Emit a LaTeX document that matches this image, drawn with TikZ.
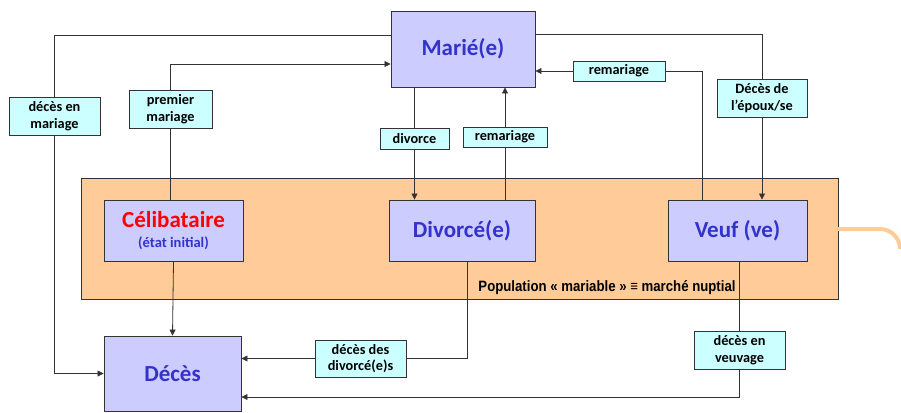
\documentclass[tikz,border=0pt]{standalone}
\usepackage{fontspec}
\setmainfont{Carlito}
\newfontfamily\arialf{Liberation Sans}
\usetikzlibrary{arrows.meta}
\definecolor{lav}{HTML}{CCCCFF}
\definecolor{tblue}{HTML}{3333CC}
\definecolor{cyanl}{HTML}{CCFFFF}
\definecolor{orf}{HTML}{FFCC99}
\definecolor{lnc}{HTML}{333333}
\begin{document}
\begin{tikzpicture}[x=1pt,y=-1pt,
  statebox/.style={draw=lnc,line width=0.9pt,fill=lav,inner sep=0pt,align=center,
    font=\bfseries\fontsize{23}{26}\selectfont,text=tblue},
  lab/.style={draw=lnc,line width=0.9pt,fill=cyanl,inner sep=0pt,align=center,
    font=\bfseries\fontsize{14.3}{16.5}\selectfont},
  conn/.style={draw=lnc,line width=0.8pt},
  arr/.style={conn,-{Triangle[length=6pt,width=6pt]}}]
\useasboundingbox (0,0) rectangle (901,412);
% orange zone
\path[fill=orf,draw=lnc,line width=0.8pt] (81,178) rectangle (838,299);
\begin{scope}
\clip (0,0) rectangle (901,412);
\draw[orf,line width=4pt] (838,229) -- (880,229) arc[start angle=-90,end angle=0,radius=20];
\end{scope}
\node[font=\arialf\bfseries\fontsize{15}{17}\selectfont] (pop) at (607,288) {\scalebox{0.88}[1]{Population « mariable » ≡ marché nuptial}};
% states
\node[statebox,minimum width=144,minimum height=76] (Marie) at (463,49) {Marié(e)};
\node[statebox,minimum width=139,minimum height=61] (Celib) at (173.5,230.5) {\textcolor{red}{Célibataire}\\[-6pt]{\fontsize{14.5}{16}\selectfont (état initial)}};
\node[statebox,minimum width=146,minimum height=61] (Divorce) at (462,230.5) {Divorcé(e)};
\node[statebox,minimum width=139,minimum height=61] (Veuf) at (737.5,230.5) {Veuf (ve)};
\node[statebox,minimum width=137,minimum height=75] (Deces) at (172.5,373.5) {Décès};
% labels
\node[lab,minimum width=91,minimum height=38] (L1) at (54.5,116) {décès en\\mariage};
\node[lab,minimum width=83,minimum height=38] (L2) at (170.5,109) {premier\\mariage};
\node[lab,minimum width=69,minimum height=21] (L3) at (414.5,138.5) {divorce};
\node[lab,minimum width=84,minimum height=20] (L4) at (505,137) {remariage};
\node[lab,minimum width=92,minimum height=20] (L5) at (619,71) {remariage};
\node[lab,minimum width=90,minimum height=38] (L6) at (762,98) {Décès de\\l’époux/se};
\node[lab,minimum width=91,minimum height=37] (L7) at (360.5,358.5) {décès des\\divorcé(e)s};
\node[lab,minimum width=91,minimum height=38] (L8) at (739.5,350) {décès en\\veuvage};
\coordinate (c5) at (702,71);
\coordinate (c7) at (467,358.5);
% connectors
\draw[conn] ([yshift=14pt]Marie.west) -| (L1.north);
\draw[arr] (L1.south) |- (Deces.west);
\draw[conn] (L2.south |- Celib.north) -- (L2.south);
\draw[arr] (L2.north) |- ([yshift=-15pt]Marie.west);
\draw[conn] (L3 |- Marie.south) -- (L3.north);
\draw[arr] (L3.south) -- (L3 |- Divorce.north);
\draw[conn] (L4 |- Divorce.north) -- (L4.south);
\draw[arr] (L4.north) -- (L4 |- Marie.south);
\draw[conn] (c5 |- Veuf.north) -- (c5) -- (L5.east);
\draw[arr] (L5.west) -- (L5 -| Marie.east);
\draw[conn] ([yshift=15pt]Marie.east) -| (L6.north);
\draw[arr] (L6.south) -- (L6 |- Veuf.north);
\draw[arr] (Celib.south) -- (Deces.north);
\draw[conn] (c7 |- Divorce.south) -- (c7) -- (L7.east);
\draw[arr] (L7.west) -- (L7 -| Deces.east);
\draw[conn] (L8 |- Veuf.south) -- (L8.north);
\draw[arr] (L8.south) |- ([yshift=-23.5pt]Deces.east);
\end{tikzpicture}
\end{document}
